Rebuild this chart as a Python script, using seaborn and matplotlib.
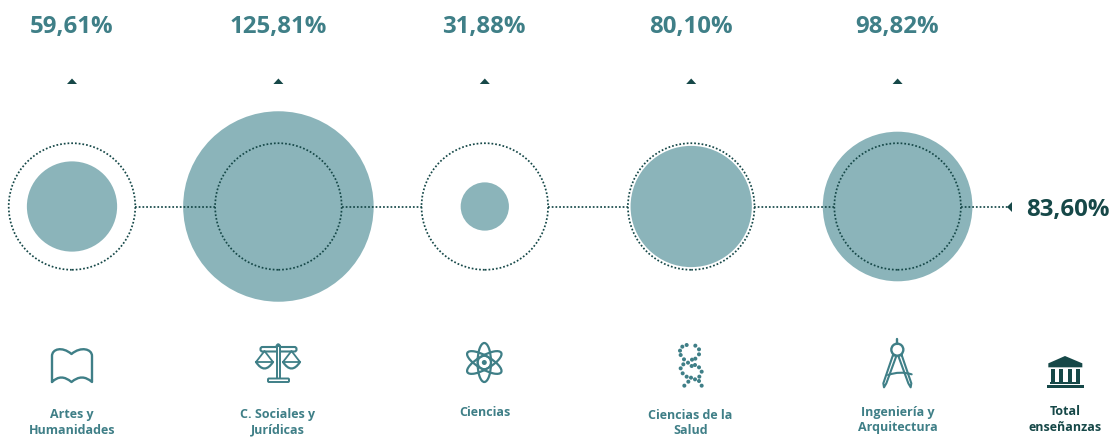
import numpy as np
import pandas as pd
import matplotlib
matplotlib.use("Agg")
import matplotlib.pyplot as plt
import seaborn as sns
from matplotlib.patches import PathPatch, Polygon, Circle, Ellipse, Rectangle, FancyBboxPatch
from matplotlib.path import Path
from matplotlib.transforms import Affine2D

# ---- data ----
categories = ["Artes y\nHumanidades", "C. Sociales y\nJurídicas", "Ciencias",
              "Ciencias de la\nSalud", "Ingeniería y\nArquitectura"]
values = [59.61, 125.81, 31.88, 80.10, 98.82]
value_labels = ["59,61%", "125,81%", "31,88%", "80,10%", "98,82%"]
total_value = 83.60
total_label = "83,60%"
total_category = "Total\nenseñanzas"

# ---- style ----
TEAL = "#3f7f87"
DISC = "#8bb4ba"
DARK = "#164848"
W, H = 1120, 437
FIRST_X, STEP, AXIS_Y = 72.0, 206.4, 206.5
PX_PER_VALUE = 0.757

sns.set_theme(style="white")
plt.rcParams["font.family"] = ["Open Sans", "DejaVu Sans"]

fig = plt.figure(figsize=(W / 100, H / 100), dpi=100)
ax = fig.add_axes([0, 0, 1, 1])
ax.set_xlim(-FIRST_X / STEP, (W - FIRST_X) / STEP)
ax.set_ylim(H - AXIS_Y, -AXIS_Y)
ax.axis("off")
px = Affine2D().scale(1, -1).translate(0, H)

df = pd.DataFrame({"pos": np.arange(len(values)), "value": values, "base": 0.0})
df["radius"] = df["value"] * PX_PER_VALUE
size_of = lambda r: (2 * r * 0.72) ** 2
ring_r = total_value * PX_PER_VALUE
DOTS = (0, (1, 1.15))

# value discs
sns.scatterplot(data=df, x="pos", y="base", s=size_of(df["radius"]).tolist(),
                color=DISC, linewidth=0, ax=ax, legend=False, zorder=2, clip_on=False)
# reference rings
sns.scatterplot(data=df, x="pos", y="base", s=size_of(ring_r), marker="o",
                facecolor="none", edgecolor=DARK, linewidth=1.25,
                linestyle=DOTS, ax=ax, legend=False, zorder=3, clip_on=False)

# connecting dotted line
ring_d = ring_r / STEP
line_kw = dict(color=DARK, lw=1.25, ls=DOTS, zorder=3)
for p in df["pos"][:-1]:
    ax.plot([p + ring_d, p + 1 - ring_d], [0, 0], **line_kw)
last = df["pos"].iloc[-1]
end_x = (1010 - FIRST_X) / STEP
ax.plot([last + ring_d, end_x], [0, 0], **line_kw)
ax.add_patch(Polygon([[1007, 207], [1012, 202], [1012, 212]], closed=True,
                     transform=px, color=DARK, lw=0, zorder=4))

# markers + value labels
for i, lab in enumerate(value_labels):
    cx = FIRST_X + STEP * i
    ax.add_patch(Polygon([[cx - 5, 84], [cx + 5, 84], [cx, 78.5]], closed=True,
                         transform=px, color=DARK, lw=0))
    ax.text(cx - 0.5, 27.5, lab, transform=px, ha="center", va="center", color=TEAL,
            fontsize=17.3, fontweight="bold")
ax.text(1067.5, 210, total_label, transform=px, ha="center", va="center", color=DARK,
        fontsize=17.3, fontweight="bold")

# category labels
label_pos = [(72, 422.5), (278, 422.5), (485, 412), (690.5, 423), (898, 420)]
for cat, (lx, ly) in zip(categories, label_pos):
    ax.text(lx, ly, cat, transform=px, ha="center", va="center", color=TEAL,
            fontsize=9, fontweight="bold", linespacing=1.25)
ax.text(1065, 419.5, total_category, transform=px, ha="center", va="center", color=DARK,
        fontsize=9, fontweight="bold", linespacing=1.25)


# ---- icons (drawn in pixel coordinates) ----
def stroke(verts, codes=None, color=TEAL, lw=1.7, fill="none"):
    ax.add_patch(PathPatch(Path(verts, codes), transform=px, edgecolor=color, facecolor=fill,
                           lw=lw, clip_on=False, capstyle="round", joinstyle="round"))


C3, L2, M = Path.CURVE3, Path.LINETO, Path.MOVETO
C4 = Path.CURVE4
# book
stroke([(52, 382), (52, 356), (52, 349), (62, 346), (71.5, 354), (81, 346), (92, 349), (92, 356),
        (92, 382), (82, 373), (71.5, 382), (61, 373), (52, 382)],
       [M, L2, C4, C4, C4, C4, C4, C4, L2, C3, C3, C3, C3])

# scales
ax.add_patch(FancyBboxPatch((260.5, 347), 36, 4.5, boxstyle="round,pad=0,rounding_size=2", transform=px,
                            ec=TEAL, fc="white", lw=1.5))
stroke([(276.5, 346), (278.2, 342.5), (280, 346)], [M, C3, C3], lw=1.5)
ax.add_patch(Rectangle((276.5, 345.5), 3.5, 33, transform=px, ec=TEAL, fc="white", lw=1.4))
for a, b, c in [(256, 264.5, 273), (283, 291.5, 300)]:
    stroke([(a, 362), (c, 362), (b, 351), (a, 362)], [M, L2, L2, L2], lw=1.3)
    stroke([(a, 362), (b, 375), (c, 362)], [M, C3, C3], lw=1.6)
ax.add_patch(FancyBboxPatch((268, 378.5), 21, 3.5, boxstyle="round,pad=0,rounding_size=1", transform=px,
                            ec=TEAL, fc="white", lw=1.4))

# atom
ac = (484.3, 362.5)
for ang in (0, 60, 120):
    ax.add_patch(Ellipse(ac, 13.5, 39, angle=ang, transform=px, ec=TEAL, fc="none", lw=1.6))
ax.add_patch(Circle(ac, 6.5, transform=px, ec=TEAL, fc="none", lw=1.3))
ax.add_patch(Circle(ac, 2.5, transform=px, ec="none", fc=TEAL))

# DNA helix
dna = [(860, 45), (847, 50), (840, 62), (842, 75), (852, 88), (864, 98), (876, 89), (886, 47), (897, 58),
       (897, 73), (886, 86), (850, 103), (842, 115), (848, 130), (860, 140), (873, 143), (885, 148),
       (897, 153), (905, 167), (865, 155), (853, 167), (885, 105), (897, 112), (905, 125), (898, 140),
       (875, 108)]
for zx, zy in dna:
    ax.add_patch(Circle((400 + zx / 3, 330 + zy / 3), 2.0, transform=px, ec="none", fc=TEAL))

# compass
zc = lambda pts: [(820 + x / 3, 330 + y / 3) for x, y in pts]
stroke(zc([(232, 28), (232, 42)]), lw=1.7)
ax.add_patch(Circle(zc([(232, 59)])[0], 6, transform=px, ec=TEAL, fc="none", lw=1.7))
stroke(zc([(219, 75), (229, 78), (199, 160), (192, 172), (190, 160), (219, 75)]),
       [M, L2, L2, L2, L2, L2], lw=1.5)
stroke(zc([(245, 75), (235, 78), (265, 160), (272, 172), (274, 160), (245, 75)]),
       [M, L2, L2, L2, L2, L2], lw=1.5)
stroke(zc([(204, 135), (240, 122), (275, 133)]), [M, C3, C3], lw=1.5)

# bank
ax.add_patch(Polygon(zc([(735, 78), (787, 100), (787, 112), (685, 112), (685, 100)]), closed=True,
                     transform=px, fc=DARK, ec="none"))
for zx in (698, 723, 748, 773):
    (x0, y0) = zc([(zx - 5, 117)])[0]
    ax.add_patch(Rectangle((x0, y0), 4.0, 13, transform=px, fc=DARK, ec="none"))
for a, b, t, h in [(690, 780, 156, 2.4), (682, 792, 165, 2.6)]:
    (x0, y0) = zc([(a, t)])[0]
    ax.add_patch(Rectangle((x0, y0), (b - a) / 3, h, transform=px, fc=DARK, ec="none"))

fig.savefig("out.png", dpi=100)
